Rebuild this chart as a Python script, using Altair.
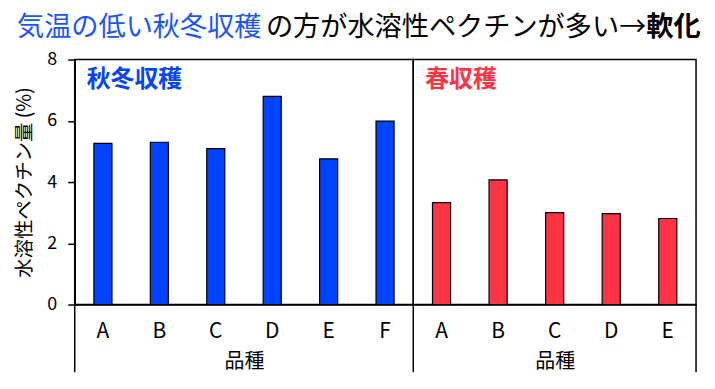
import altair as alt
import pandas as pd

FONT = "Noto Sans CJK JP"

aw_cats = ["A", "B", "C", "D", "E", "F"]
aw_vals = [5.26, 5.30, 5.09, 6.80, 4.76, 5.99]
sp_cats = ["A", "B", "C", "D", "E"]
sp_vals = [3.33, 4.07, 3.00, 2.97, 2.81]

y_ticks = [0, 2, 4, 6, 8]
BLUE = "#0044FF"
RED = "#FF3344"
H = 246

aw = pd.DataFrame({"品種": aw_cats, "v": aw_vals})
sp = pd.DataFrame({"品種": sp_cats, "v": sp_vals})
dummy = pd.DataFrame({"k": [0]})

xaxis = alt.Axis(labelAngle=0, labelFontSize=21, labelFont=FONT, labelColor="#000",
                 titleFontSize=20, titleFont=FONT, titleFontWeight="normal", titleColor="#000",
                 ticks=False, labelPadding=16, titlePadding=10,
                 domainColor="#000", domainWidth=1.5)


def panel(df, cats, color, label, w, yaxis, extra):
    xs = alt.X("品種:N", sort=cats, axis=xaxis,
               scale=alt.Scale(paddingInner=0.68, paddingOuter=0.34))
    ys = alt.Y("v:Q", scale=alt.Scale(domain=[0, 8]), axis=yaxis)
    bars = alt.Chart(df).mark_bar(color=color, stroke="#000", strokeWidth=1.2).encode(x=xs, y=ys)
    lab = alt.Chart(dummy).mark_text(text=label, color=color, fontSize=24, fontWeight="bold",
                                     font=FONT, align="left", baseline="middle").encode(
        x=alt.value(12), y=alt.value(21))
    layers = [bars, lab]
    for xv in extra:
        layers.append(alt.Chart(dummy).mark_rule(color="#000", strokeWidth=1.5).encode(
            x=alt.value(xv), y=alt.value(H), y2=alt.value(H + 68)))
    return alt.layer(*layers).properties(width=w, height=H)


yaxis = alt.Axis(values=y_ticks, title="水溶性ペクチン量 (%)", titleFont=FONT, titleFontSize=19.5,
                 titleFontWeight="normal", titleColor="#000", titlePadding=12,
                 labelFontSize=18, labelFont=FONT, labelColor="#000", labelPadding=11,
                 tickSize=7, tickColor="#000", tickWidth=1.5, grid=False,
                 domainColor="#000", domainWidth=1.5)

left = panel(aw, aw_cats, BLUE, "秋冬収穫", 340, yaxis, [0])
right = panel(sp, sp_cats, RED, "春収穫", 284, None, [0, 284])

TS = 27.3
t1 = alt.Chart(dummy).mark_text(text="気温の低い秋冬収穫", color="#1a55ff", fontSize=TS, font=FONT,
                                align="left", baseline="middle").encode(x=alt.value(-58), y=alt.value(-32))
t2 = alt.Chart(dummy).mark_text(text="の方が水溶性ペクチンが多い→", color="#000", fontSize=TS, font=FONT,
                                align="left", baseline="middle").encode(x=alt.value(192), y=alt.value(-32))
t3 = alt.Chart(dummy).mark_text(text="軟化", color="#000", fontSize=TS, font=FONT, fontWeight="bold",
                                align="left", baseline="middle").encode(x=alt.value(574), y=alt.value(-32))

left = alt.layer(left, t1, t2, t3)

chart = alt.hconcat(left, right, spacing=0, bounds="flush").properties(
    padding={"top": 4, "left": 6, "right": 5, "bottom": 5}
).configure(font=FONT).configure_view(stroke="#000", strokeWidth=1.5)

chart.save("out.html", embed_options={"renderer": "svg", "actions": False})
